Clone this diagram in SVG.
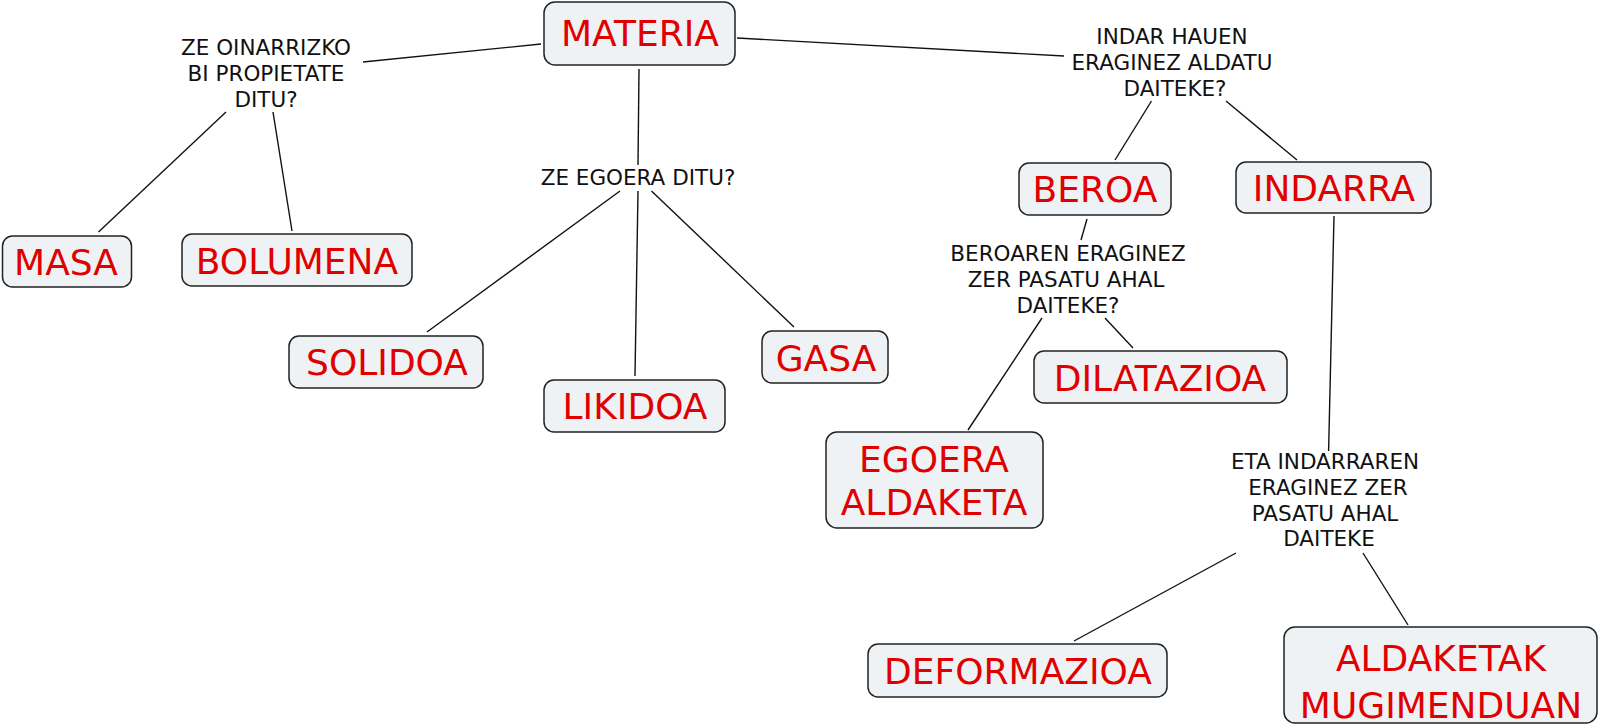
<svg xmlns="http://www.w3.org/2000/svg" width="1600" height="727" viewBox="0 0 1600 727">
<style>
.box{fill:#eef2f4;stroke:#222;stroke-width:1.5}
.nt{font-family:"DejaVu Sans",Verdana,sans-serif;font-size:36px;fill:#e00000;text-anchor:middle}
.lt{font-family:"DejaVu Sans",Verdana,sans-serif;font-size:21.5px;fill:#111;text-anchor:middle}
.c line{stroke:#111;stroke-width:1.4}
</style>
<rect width="1600" height="727" fill="#fff"/>
<g class="c" id="connectors">
<line x1="541" y1="44" x2="363" y2="62"/>
<line x1="226" y1="112" x2="98.5" y2="232"/>
<line x1="273" y1="112" x2="292" y2="231"/>
<line x1="639" y1="69" x2="638" y2="165"/>
<line x1="620" y1="191" x2="427" y2="332"/>
<line x1="638" y1="191" x2="635" y2="376"/>
<line x1="651.5" y1="191" x2="794" y2="327"/>
<line x1="737" y1="38" x2="1064" y2="56"/>
<line x1="1151.5" y1="101" x2="1115" y2="160"/>
<line x1="1226" y1="101" x2="1297" y2="160"/>
<line x1="1087" y1="219" x2="1081" y2="240"/>
<line x1="1334" y1="216" x2="1328.6" y2="451"/>
<line x1="1042" y1="318" x2="968" y2="430"/>
<line x1="1105" y1="318" x2="1133" y2="348"/>
<line x1="1236" y1="553" x2="1074" y2="641"/>
<line x1="1363" y1="553" x2="1408" y2="625"/>
</g>
<g id="materia"><rect class="box" x="544" y="2" width="191" height="63" rx="11"/><text class="nt" x="640" y="46">MATERIA</text></g>
<g id="masa"><rect class="box" x="2.5" y="236" width="129" height="51" rx="10"/><text class="nt" x="66" y="275">MASA</text></g>
<g id="bolumena"><rect class="box" x="182" y="234" width="230" height="52" rx="10"/><text class="nt" x="297" y="274">BOLUMENA</text></g>
<g id="solidoa"><rect class="box" x="289" y="336" width="194" height="52" rx="10"/><text class="nt" x="387" y="375">SOLIDOA</text></g>
<g id="likidoa"><rect class="box" x="544" y="380" width="181" height="52" rx="10"/><text class="nt" x="635" y="419">LIKIDOA</text></g>
<g id="gasa"><rect class="box" x="762" y="331" width="126" height="52" rx="10"/><text class="nt" x="826" y="371">GASA</text></g>
<g id="beroa"><rect class="box" x="1019" y="163" width="152" height="52" rx="10"/><text class="nt" x="1095" y="202">BEROA</text></g>
<g id="indarra"><rect class="box" x="1236" y="162" width="195" height="51" rx="10"/><text class="nt" x="1334" y="201">INDARRA</text></g>
<g id="dilatazioa"><rect class="box" x="1034" y="351" width="253" height="52" rx="10"/><text class="nt" x="1160" y="391">DILATAZIOA</text></g>
<g id="egoera-aldaketa"><rect class="box" x="826" y="432" width="217" height="96" rx="11"/><text class="nt" x="934" y="472">EGOERA</text><text class="nt" x="934" y="515">ALDAKETA</text></g>
<g id="deformazioa"><rect class="box" x="868" y="644" width="299" height="53" rx="10"/><text class="nt" x="1018" y="684">DEFORMAZIOA</text></g>
<g id="aldaketak-mugimenduan"><rect class="box" x="1284" y="627" width="313" height="96" rx="11"/><text class="nt" x="1441" y="671">ALDAKETAK</text><text class="nt" x="1441" y="718">MUGIMENDUAN</text></g>
<g id="label-propietate"><text class="lt" x="266" y="55">ZE OINARRIZKO</text><text class="lt" x="266" y="81">BI PROPIETATE</text><text class="lt" x="266" y="107">DITU?</text></g>
<g id="label-egoera"><text class="lt" x="638" y="185">ZE EGOERA DITU?</text></g>
<g id="label-indar"><text class="lt" x="1172" y="44">INDAR HAUEN</text><text class="lt" x="1172" y="70">ERAGINEZ ALDATU</text><text class="lt" x="1175" y="96">DAITEKE?</text></g>
<g id="label-beroaren"><text class="lt" x="1068" y="261">BEROAREN ERAGINEZ</text><text class="lt" x="1066" y="287">ZER PASATU AHAL</text><text class="lt" x="1068" y="313">DAITEKE?</text></g>
<g id="label-indarraren"><text class="lt" x="1325" y="469">ETA INDARRAREN</text><text class="lt" x="1328" y="495">ERAGINEZ ZER</text><text class="lt" x="1325" y="521">PASATU AHAL</text><text class="lt" x="1329" y="546">DAITEKE</text></g>
</svg>
